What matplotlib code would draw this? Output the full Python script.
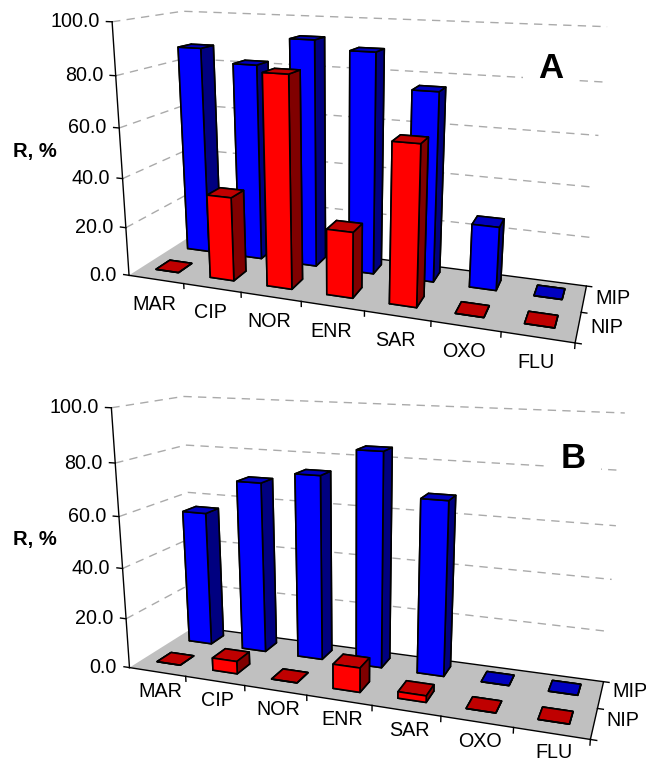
import matplotlib
matplotlib.use('Agg')
import numpy as np
import matplotlib.pyplot as plt
from mpl_toolkits.mplot3d import proj3d
from mpl_toolkits.mplot3d.art3d import Poly3DCollection

plt.rcParams['font.family'] = ['Liberation Sans', 'DejaVu Sans']

drugs = ['MAR', 'CIP', 'NOR', 'ENR', 'SAR', 'OXO', 'FLU']
rows = ['NIP', 'MIP']
z_ticks = [0, 20, 40, 60, 80, 100]

# Recovery, %
mip_a = [87, 81.5, 92.5, 89, 75.5, 25.5, 0]
nip_a = [0, 34, 83, 26, 61.5, 0, 0]
mip_b = [55.5, 69.5, 74, 84.5, 68, 0, 0]
nip_b = [0, 5, 0, 9.5, 2.5, 0, 0]

FIG_W, FIG_H = 646, 762
BAR_W = 0.42
BAR_D = 0.42
BAR_X0 = 0.27
BAR_Y0 = 0.36

red_faces = ['#bf0000', '#bf0000', '#ff0000', '#bf0000', '#bf0000', '#800000']
blue_faces = ['#0000bf', '#0000bf', '#0000ff', '#0000bf', '#0000bf', '#000080']


def draw_panel(fig, nip, mip, camera, placement, letter, letter_xy, r_y, xlab_off, ylab_dy):
    elev, azim, roll, log_b, log_c, log_zoom = camera
    s, tx, ty = placement

    ax = fig.add_subplot(projection='3d', computed_zorder=False)
    ax.set_proj_type('persp')
    ax.view_init(elev, azim, roll)
    ax.set_box_aspect((1, np.exp(log_b), np.exp(log_c)), zoom=np.exp(log_zoom))
    ax.set_axis_off()
    ax.set_facecolor('none')

    # wider view window so nothing gets clipped, then place the square axes
    # so view coordinates land on the right pixels
    ax.viewLim.intervalx = (-0.5, 0.5)
    ax.viewLim.intervaly = (-0.5, 0.5)
    ax.set_position([(tx - s / 2) / FIG_W, 1 - (ty + s / 2) / FIG_H, s / FIG_W, s / FIG_H])

    # bars, back row first
    n = 10
    for j, (values, faces) in enumerate([(mip, blue_faces), (nip, red_faces)]):
        y = 1 - j
        for i, v in enumerate(values):
            ax.bar3d(i + BAR_X0, y + BAR_Y0, 0, BAR_W, BAR_D, v, color=faces,
                     edgecolor='black', linewidth=1.2, shade=False, zorder=n)
            n += 1

    ax.set_xlim(0, 7)
    ax.set_ylim(0, 2)
    ax.set_zlim(0, 100)

    # floor
    floor = [[(0, 0, 0), (7, 0, 0), (7, 2, 0), (0, 2, 0)]]
    ax.add_collection3d(Poly3DCollection(floor, facecolor='#c0c0c0', edgecolor='none', zorder=2))
    ax.plot([0, 7, 7, 0], [0, 0, 2, 2], [0, 0, 0, 0], color='black', lw=1, zorder=3)

    # walls
    for z in z_ticks[1:]:
        ax.plot([0, 0, 7], [0, 2, 2], [z, z, z], color='#aaaaaa', lw=1,
                dashes=(6, 4.5), zorder=1)
    ax.plot([0, 0], [0, 0], [0, 100], color='black', lw=1, zorder=3)

    # ticks
    M = ax.get_proj()

    def label(x, y, z, text, dx, dy, ha='center'):
        px, py, _ = proj3d.proj_transform(x, y, z, M)
        ax.annotate(text, (px, py), xytext=(dx, dy), textcoords='offset pixels',
                    ha=ha, va='center', fontsize=14.2, zorder=5, annotation_clip=False)

    for z in z_ticks:
        ax.plot([-0.1, 0], [0, 0], [z, z], color='black', lw=1, zorder=3)
        label(0, 0, z, '%.1f' % z, -12.5, 0, ha='right')
    for i in range(1, 8):
        ax.plot([i, i], [0, 0], [0, -2], color='black', lw=1, zorder=3)
    for i, name in enumerate(drugs):
        label(i + 0.5, 0, 0, name, xlab_off[0], xlab_off[1])
    for j in range(3):
        ax.plot([7, 7.08], [j, j], [0, 0], color='black', lw=1, zorder=3)
    for j, name in enumerate(rows):
        label(7, j + 0.5, 0, name, 29, ylab_dy)

    fig.text(35 / FIG_W, 1 - r_y / FIG_H, 'R, %', fontsize=14.5, fontweight='bold',
             ha='center', va='center')
    fig.text(letter_xy[0] / FIG_W, 1 - letter_xy[1] / FIG_H, letter, fontsize=25,
             fontweight='bold', ha='center', va='center',
             bbox=dict(facecolor='white', edgecolor='none', pad=11))


fig = plt.figure(figsize=(FIG_W / 100, FIG_H / 100), dpi=100)

draw_panel(fig, nip_a, mip_a, (14.5422, -71.0811, -0.3114, -1.2296, -0.5464, 1.2211),
           (842.5546, 355.654, 157.4724), 'A', (551, 68), 152, (-1.5, -25), 0)
draw_panel(fig, nip_b, mip_b, (14.7987, -70.3672, -0.1843, -1.2626, -0.5551, 1.2183),
           (875.6722, 362.7647, 547.6697), 'B', (573, 458), 540, (3, -19.5), 3)

fig.savefig('out.png', dpi=100)
